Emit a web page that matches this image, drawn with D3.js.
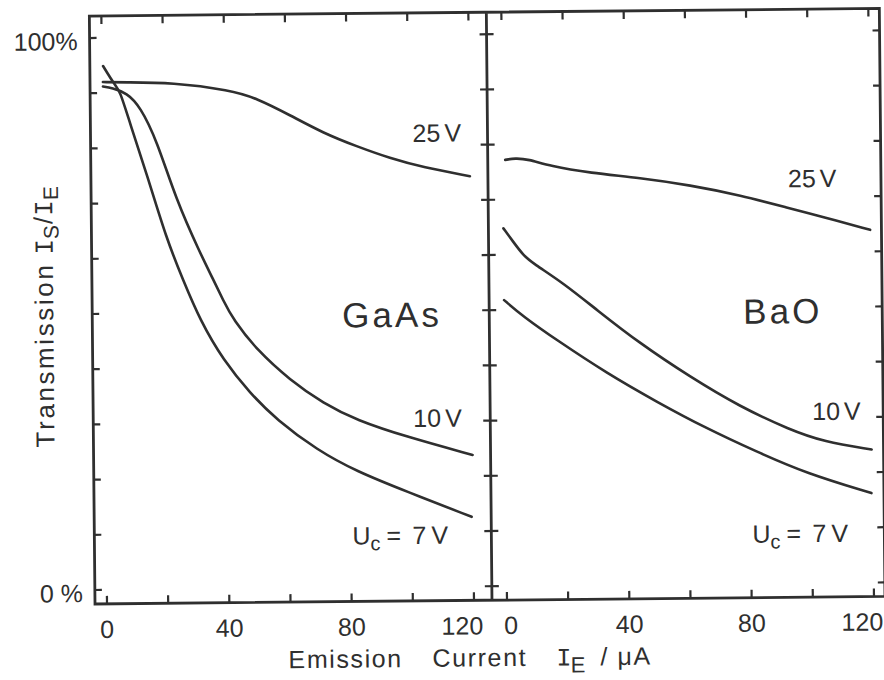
<!DOCTYPE html>
<html>
<head>
<meta charset="utf-8">
<script src="https://cdn.jsdelivr.net/npm/d3@7"></script>
<style>
  html, body { margin: 0; background: #fff; }
  svg { display: block; }
</style>
</head>
<body>
<svg id="chart" width="884" height="680"></svg>
<script>
// Emission current (µA) vs transmission (%) for each collector voltage
const gaas25 = [[0.3,92.0],[7,91.9],[23,91.8],[42,90.3],[50.5,88.8],[61.3,85.7],[72.1,82.4],[83.1,79.9],[93.9,77.7],[104.7,76.0],[120,74.3]];
const gaas10 = [[0.3,91.2],[3.2,90.9],[8.1,90.0],[12.4,87.5],[17.7,81.4],[23.9,70.5],[31.5,60.9],[35.8,56.0],[38.9,52.3],[42.2,48.7],[49.8,43.2],[60.5,37.7],[71.4,33.4],[82.2,30.3],[98.5,27.2],[120,23.8]];
const gaas7  = [[0.4,94.9],[4.2,91.4],[5.8,90.5],[9.0,84.5],[14.3,75.4],[20.7,63.3],[25.9,56.0],[31.3,48.7],[38.8,41.4],[47.4,35.4],[56.1,30.5],[69.1,25.0],[82.1,21.0],[98.3,17.3],[119.5,12.6]];

const bao25 = [[0.8,77.2],[4.0,77.5],[8.3,77.3],[15.4,76.0],[28.5,74.7],[44.8,73.7],[61.2,72.3],[77.5,70.4],[93.9,67.9],[104.6,66.3],[119.9,63.9]];
const bao10 = [[0,64.8],[3.1,62.4],[6.4,59.9],[9.6,58.4],[19.4,54.8],[30.2,49.9],[44.3,43.7],[60.5,37.6],[76.7,32.1],[93.1,27.8],[104,25.6],[119.7,24.1]];
const bao7  = [[0,51.8],[6.2,48.8],[17,44.5],[33.3,38.4],[49.6,33.1],[65.8,28.2],[82.1,23.9],[98.2,19.9],[119.5,16.2]];

// Axis ticks and labels
const xTickValues = [0, 20, 40, 60, 80, 100, 120];
const xLabelValues = [0, 40, 80, 120];
const yTickValues = [0, 10, 20, 30, 40, 50, 60, 70, 80, 90, 100];
const yLabelValues = [100, 0];
const yLabelTexts = ["100%", "0 %"];
const panelNames = ["GaAs", "BaO"];

const ink = "#2f2f2f";
const font = "'Liberation Sans', Arial, sans-serif";
const mono = "'Liberation Mono', 'DejaVu Sans Mono', monospace";

const svg = d3.select("#chart");
// the whole drawing sits very slightly tilted, as on the printed page
const g = svg.append("g").attr("transform", "rotate(-0.55,95,604)");

const frame = { left: 95, right: 885, top: 16, bottom: 604, divider: 492 };
const y  = d3.scaleLinear().domain([0, 100]).range([590, 38]);
const xL = d3.scaleLinear().domain([0, 120]).range([107, 474]);
const xR = d3.scaleLinear().domain([0, 120]).range([507, 874]);

// frame
g.append("path")
  .attr("d", `M${frame.left},${frame.top}V${frame.bottom}H${frame.right}V${frame.top}Z M${frame.divider},${frame.top}V${frame.bottom}`)
  .attr("fill", "none").attr("stroke", ink).attr("stroke-width", 2.8)
  .attr("stroke-linejoin", "miter");

const tickG = g.append("g").attr("stroke", ink).attr("stroke-width", 2.2);
function tick(x1, y1, x2, y2) {
  tickG.append("line").attr("x1", x1).attr("y1", y1).attr("x2", x2).attr("y2", y2);
}
yTickValues.forEach(v => {
  tick(frame.left, y(v), frame.left + 7, y(v));
  tick(frame.divider - 7, y(v), frame.divider + 7, y(v));
  tick(frame.right - 7, y(v), frame.right, y(v));
});
[xL, xR].forEach(sc => {
  xTickValues.forEach(v => {
    tick(sc(v), frame.bottom, sc(v), frame.bottom - 8);
    tick(sc(v), frame.top, sc(v), frame.top + 8);
  });
});

// tick labels
const tl = g.append("g").attr("font-family", font).attr("font-size", 25).attr("fill", ink);
yLabelValues.forEach((v, i) => {
  tl.append("text").attr("x", 83).attr("y", y(v) + 12)
    .attr("text-anchor", "end").text(yLabelTexts[i]);
});
[xL, xR].forEach(sc => {
  xLabelValues.forEach(v => {
    const edge = v === 120;
    tl.append("text")
      .attr("x", edge ? sc(v) + 9 : sc(v) + (sc === xR && v === 0 ? 4 : 0))
      .attr("y", 638)
      .attr("text-anchor", edge ? "end" : "middle")
      .text(v);
  });
});

// curves
const line = (sc) => d3.line().x(d => sc(d[0])).y(d => y(d[1])).curve(d3.curveBasis);
const curves = g.append("g").attr("fill", "none").attr("stroke", ink)
  .attr("stroke-width", 2.6).attr("stroke-linecap", "round").attr("stroke-linejoin", "round");
[gaas25, gaas10, gaas7].forEach(s => curves.append("path").attr("d", line(xL)(s)));
[bao25, bao10, bao7].forEach(s => curves.append("path").attr("d", line(xR)(s)));

// panel names
const big = g.append("g").attr("font-family", font).attr("font-size", 35).attr("fill", ink).attr("letter-spacing", 3);
big.append("text").attr("x", 345).attr("y", 330).text(panelNames[0]);
big.append("text").attr("x", 746).attr("y", 330).text(panelNames[1]);

// curve labels
const lab = g.append("g").attr("font-family", font).attr("font-size", 25).attr("fill", ink);
function voltLabel(x, yy, num) {
  const t = lab.append("text").attr("x", x).attr("y", yy);
  t.append("tspan").text(num);
  t.append("tspan").attr("dx", 4).text("V");
}
function ucLabel(x, yy) {
  const t = lab.append("text").attr("y", yy);
  t.append("tspan").attr("x", x).text("U");
  t.append("tspan").attr("x", x + 18).attr("font-size", 20).attr("dy", 6).text("c");
  t.append("tspan").attr("x", x + 34).attr("dy", -6).text("=");
  t.append("tspan").attr("x", x + 60).text("7");
  t.append("tspan").attr("x", x + 79).text("V");
}
voltLabel(417, 145, "25");
voltLabel(415, 430, "10");
ucLabel(353, 547);
voltLabel(792, 194, "25");
voltLabel(814, 427, "10");
ucLabel(753, 549);

// axis titles
const xt = g.append("text").attr("y", 670).attr("font-family", font).attr("font-size", 25)
  .attr("fill", ink).attr("letter-spacing", 1.6);
xt.append("tspan").attr("x", 288).text("Emission");
xt.append("tspan").attr("x", 432).text("Current");
xt.append("tspan").attr("x", 556).attr("font-family", mono).attr("letter-spacing", 0).text("I");
xt.append("tspan").attr("x", 570).attr("dy", 7).attr("font-size", 22).text("E");
xt.append("tspan").attr("x", 600).attr("dy", -7).text("/");
xt.append("tspan").attr("x", 617).text("μA");

const yt = g.append("text").attr("transform", "translate(56,447) rotate(-90)")
  .attr("font-family", font).attr("font-size", 26).attr("fill", ink).attr("letter-spacing", 2.6);
yt.append("tspan").text("Transmission");
yt.append("tspan").attr("dx", 8).attr("font-family", mono).attr("letter-spacing", 0).text("I");
yt.append("tspan").attr("dy", 6).attr("font-size", 21).attr("letter-spacing", 1).text("S");
yt.append("tspan").attr("dy", -6).attr("letter-spacing", 1).text("/");
yt.append("tspan").attr("font-family", mono).attr("letter-spacing", 0).text("I");
yt.append("tspan").attr("dy", 6).attr("font-size", 21).text("E");
</script>
</body>
</html>
